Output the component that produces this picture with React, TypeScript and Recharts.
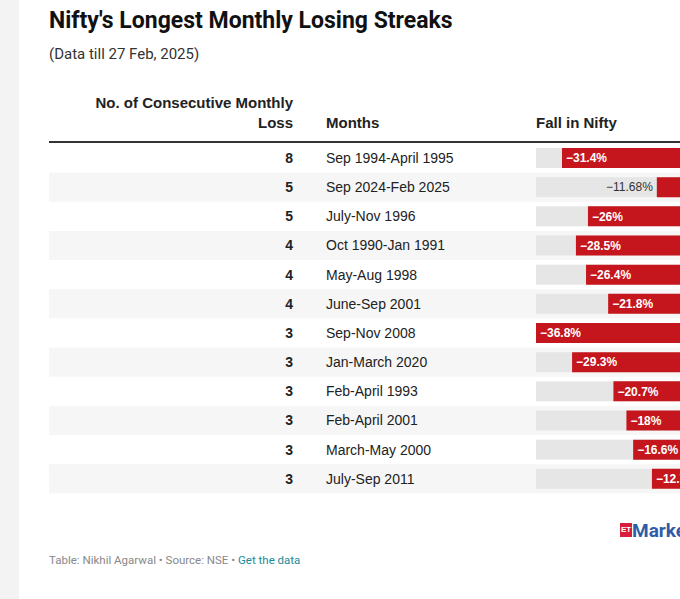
import React from "react";
import { BarChart, Bar, XAxis, YAxis, LabelList } from "recharts";

// streak length (no. of consecutive monthly losses)
const streakLengths = [8, 5, 5, 4, 4, 4, 3, 3, 3, 3, 3, 3];
const periods = [
  "Sep 1994-April 1995",
  "Sep 2024-Feb 2025",
  "July-Nov 1996",
  "Oct 1990-Jan 1991",
  "May-Aug 1998",
  "June-Sep 2001",
  "Sep-Nov 2008",
  "Jan-March 2020",
  "Feb-April 1993",
  "Feb-April 2001",
  "March-May 2000",
  "July-Sep 2011",
];
// fall in Nifty, %
const falls = [-31.4, -11.68, -26, -28.5, -26.4, -21.8, -36.8, -29.3, -20.7, -18, -16.6, -12.7];

const data = periods.map((p, i) => ({
  period: p,
  count: streakLengths[i],
  fall: falls[i],
}));

const ROW_H = 350 / 12;
const BAR_H = 20;
const TABLE_LEFT = 49;
const CHART_W = 760;

const bodyFont = "'Liberation Sans', Arial, sans-serif";
const narrowFont = "'Roboto', sans-serif";

const fmt = (v: number) => "\u2212" + Math.abs(v) + "%";

const RowBackground = (props: any) => {
  const { x, y, width, height, index } = props;
  const top = y - (ROW_H - height) / 2;
  return (
    <g>
      {index % 2 === 1 && (
        <rect x={TABLE_LEFT} y={top} width={CHART_W - TABLE_LEFT} height={ROW_H} fill="#f6f6f6" />
      )}
      <rect x={x} y={y} width={width} height={height} fill="#e6e6e6" />
    </g>
  );
};

const CountLabel = (props: any) => {
  const { y, height, value } = props;
  return (
    <text x={293} y={y + height / 2} dy="0.35em" textAnchor="end" fontFamily={bodyFont} fontSize={14} fontWeight="bold" fill="#222">
      {value}
    </text>
  );
};

const PeriodLabel = (props: any) => {
  const { y, height, value } = props;
  return (
    <text x={326} y={y + height / 2} dy="0.35em" fontFamily={bodyFont} fontSize={14} fill="#222">
      {value}
    </text>
  );
};

const FallLabel = (props: any) => {
  const { x, y, width, height, value } = props;
  const left = Math.min(x, x + width);
  const w = Math.abs(width);
  const inside = w >= 58;
  return (
    <text
      x={inside ? left + 4 : left - 4}
      y={y + height / 2}
      dy="0.35em"
      textAnchor={inside ? "start" : "end"}
      fontFamily={bodyFont}
      fontSize={12}
      fontWeight={inside ? "bold" : "normal"}
      fill={inside ? "#fff" : "#333"}
    >
      {fmt(value)}
    </text>
  );
};

export default function App() {
  return (
    <div
      style={{
        position: "absolute",
        left: 0,
        top: 0,
        width: 680,
        height: 599,
        overflow: "hidden",
        background: "#fff",
        fontFamily: bodyFont,
      }}
    >
      <div style={{ position: "absolute", left: 0, top: 0, width: 19, height: 599, background: "#f3f3f3" }} />
      <div
        style={{
          position: "absolute",
          left: TABLE_LEFT,
          top: 7,
          fontFamily: narrowFont,
          fontWeight: "bold",
          fontSize: 23,
          color: "#111",
          whiteSpace: "nowrap",
        }}
      >
        Nifty's Longest Monthly Losing Streaks
      </div>
      <div
        style={{
          position: "absolute",
          left: TABLE_LEFT,
          top: 45,
          fontFamily: narrowFont,
          fontSize: 15,
          color: "#333",
          whiteSpace: "nowrap",
        }}
      >
        (Data till 27 Feb, 2025)
      </div>
      <div
        style={{
          position: "absolute",
          left: 43,
          top: 93,
          width: 250,
          textAlign: "right",
          fontWeight: "bold",
          fontSize: 15,
          lineHeight: "20px",
          color: "#222",
        }}
      >
        No. of Consecutive Monthly
        <br />
        Loss
      </div>
      <div style={{ position: "absolute", left: 326, top: 113, fontWeight: "bold", fontSize: 15, lineHeight: "20px", color: "#222" }}>
        Months
      </div>
      <div style={{ position: "absolute", left: 536, top: 113, fontWeight: "bold", fontSize: 15, lineHeight: "20px", color: "#222", whiteSpace: "nowrap" }}>
        Fall in Nifty
      </div>
      <div style={{ position: "absolute", left: TABLE_LEFT, top: 141, width: 700, height: 2, background: "#333" }} />

      <div style={{ position: "absolute", left: 0, top: 0 }}>
        <BarChart
          width={CHART_W}
          height={599}
          data={data}
          layout="vertical"
          margin={{ top: 143, right: 47, bottom: 106, left: 536 }}
          barSize={BAR_H}
        >
          <XAxis type="number" domain={[-36.8, 0]} hide />
          <YAxis type="category" dataKey="period" hide />
          <Bar dataKey="fall" fill="#c4161c" background={RowBackground} isAnimationActive={false}>
            <LabelList dataKey="count" content={CountLabel} />
            <LabelList dataKey="period" content={PeriodLabel} />
            <LabelList dataKey="fall" content={FallLabel} />
          </Bar>
        </BarChart>
      </div>

      <div style={{ position: "absolute", left: 620, top: 523, width: 12, height: 14, background: "#d71f3c" }}>
        <span style={{ fontSize: 8, color: "#fff", fontWeight: "bold", position: "absolute", left: 1, top: 2 }}>ET</span>
      </div>
      <div style={{ position: "absolute", left: 632, top: 519, fontSize: 19, color: "#2f5ca8", fontWeight: "bold", fontFamily: narrowFont }}>
        Markets
      </div>

      <div
        style={{
          position: "absolute",
          left: TABLE_LEFT,
          top: 553,
          fontFamily: narrowFont,
          fontSize: 11.5,
          color: "#888",
          whiteSpace: "nowrap",
        }}
      >
        Table: Nikhil Agarwal • Source: NSE • <span style={{ color: "#1b8a9c" }}>Get the data</span>
      </div>
    </div>
  );
}
